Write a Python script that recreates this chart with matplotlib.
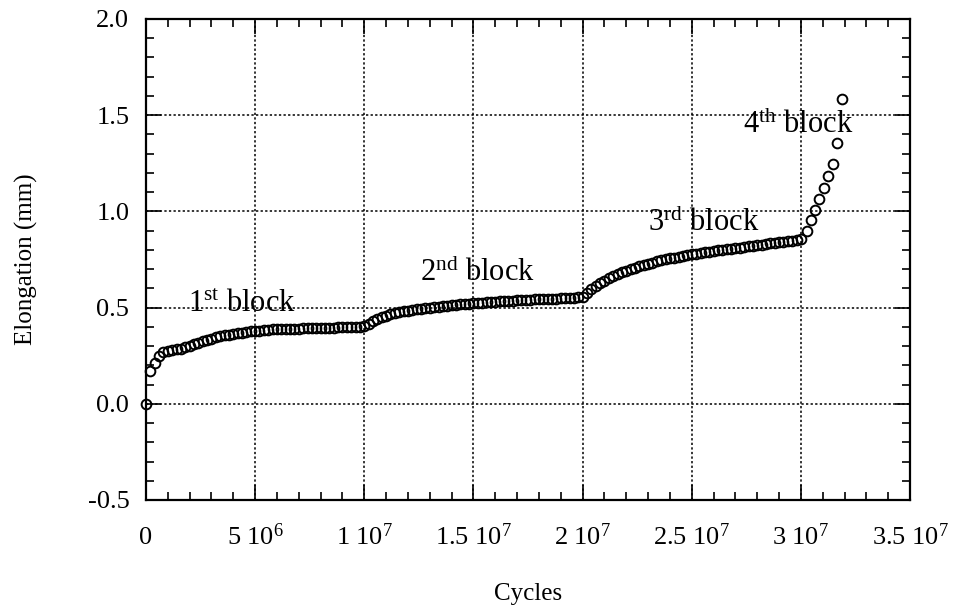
import matplotlib
matplotlib.use("Agg")
import matplotlib.pyplot as plt
from matplotlib.ticker import MultipleLocator

plt.rcParams['font.family'] = 'Liberation Serif'
plt.rcParams['mathtext.fontset'] = 'custom'
plt.rcParams['mathtext.rm'] = 'Liberation Serif'
plt.rcParams['mathtext.it'] = 'Liberation Serif:italic'
plt.rcParams['axes.unicode_minus'] = False

# cycles in millions, elongation in mm, one pair of lists per load block
cyc_b1 = [0.0, 0.2, 0.4, 0.6, 0.8, 1.0, 1.2, 1.4, 1.6, 1.8, 2.0, 2.2, 2.4, 2.6, 2.8,
          3.0, 3.2, 3.4, 3.6, 3.8, 4.0, 4.2, 4.4, 4.6, 4.8, 5.0, 5.2, 5.4, 5.6, 5.8,
          6.0, 6.2, 6.4, 6.6, 6.8, 7.0, 7.2, 7.4, 7.6, 7.8, 8.0, 8.2, 8.4, 8.6, 8.8,
          9.0, 9.2, 9.4, 9.6, 9.8, 10.0]
elong_b1 = [0.000, 0.168, 0.213, 0.250, 0.268, 0.275, 0.280, 0.283, 0.287, 0.293, 0.300,
            0.310, 0.318, 0.326, 0.333, 0.339, 0.345, 0.350, 0.355, 0.359, 0.363, 0.367,
            0.370, 0.373, 0.376, 0.378, 0.380, 0.382, 0.384, 0.386, 0.387, 0.388, 0.389,
            0.390, 0.390, 0.391, 0.392, 0.392, 0.393, 0.393, 0.394, 0.395, 0.395, 0.396,
            0.397, 0.397, 0.398, 0.399, 0.400, 0.401, 0.403]

cyc_b2 = [10.2, 10.4, 10.6, 10.8, 11.0, 11.2, 11.4, 11.6, 11.8, 12.0, 12.2, 12.4, 12.6,
          12.8, 13.0, 13.2, 13.4, 13.6, 13.8, 14.0, 14.2, 14.4, 14.6, 14.8, 15.0, 15.2,
          15.4, 15.6, 15.8, 16.0, 16.2, 16.4, 16.6, 16.8, 17.0, 17.2, 17.4, 17.6, 17.8,
          18.0, 18.2, 18.4, 18.6, 18.8, 19.0, 19.2, 19.4, 19.6, 19.8, 20.0]
elong_b2 = [0.415, 0.428, 0.440, 0.450, 0.458, 0.465, 0.470, 0.475, 0.480, 0.484, 0.488,
            0.491, 0.494, 0.497, 0.500, 0.503, 0.505, 0.508, 0.510, 0.512, 0.514, 0.516,
            0.518, 0.520, 0.522, 0.524, 0.526, 0.527, 0.529, 0.530, 0.532, 0.533, 0.535,
            0.536, 0.537, 0.539, 0.540, 0.541, 0.542, 0.543, 0.544, 0.545, 0.546, 0.547,
            0.548, 0.549, 0.550, 0.551, 0.553, 0.556]

cyc_b3 = [20.2, 20.4, 20.6, 20.8, 21.0, 21.2, 21.4, 21.6, 21.8, 22.0, 22.2, 22.4, 22.6,
          22.8, 23.0, 23.2, 23.4, 23.6, 23.8, 24.0, 24.2, 24.4, 24.6, 24.8, 25.0, 25.2,
          25.4, 25.6, 25.8, 26.0, 26.2, 26.4, 26.6, 26.8, 27.0, 27.2, 27.4, 27.6, 27.8,
          28.0, 28.2, 28.4, 28.6, 28.8, 29.0, 29.2, 29.4, 29.6, 29.8, 30.0]
elong_b3 = [0.575, 0.595, 0.612, 0.627, 0.640, 0.652, 0.663, 0.673, 0.683, 0.692, 0.700,
            0.708, 0.715, 0.722, 0.728, 0.734, 0.740, 0.745, 0.750, 0.755, 0.760, 0.764,
            0.768, 0.772, 0.776, 0.780, 0.784, 0.787, 0.791, 0.794, 0.797, 0.800, 0.803,
            0.806, 0.809, 0.812, 0.815, 0.818, 0.821, 0.824, 0.827, 0.830, 0.833, 0.836,
            0.839, 0.842, 0.845, 0.848, 0.851, 0.855]

cyc_b4 = [30.28, 30.46, 30.64, 30.84, 31.04, 31.22, 31.47, 31.64, 31.87]
elong_b4 = [0.900, 0.953, 1.008, 1.064, 1.119, 1.181, 1.246, 1.355, 1.585]

# block labels: (mathtext, x in cycles, y in mm)
block_labels = [
    (r'1$^{\rm st}$ block', 1.93e6, 0.475),
    (r'2$^{\rm nd}$ block', 1.257e7, 0.636),
    (r'3$^{\rm rd}$ block', 2.30e7, 0.896),
    (r'4$^{\rm th}$ block', 2.733e7, 1.407),
]

x_ticks = [0, 5e6, 1e7, 1.5e7, 2e7, 2.5e7, 3e7, 3.5e7]
x_ticklabels = ['0', r'5 10$^{6}$', r'1 10$^{7}$', r'1.5 10$^{7}$', r'2 10$^{7}$',
                r'2.5 10$^{7}$', r'3 10$^{7}$', r'3.5 10$^{7}$']
y_ticks = [-0.5, 0.0, 0.5, 1.0, 1.5, 2.0]

cycles = [c * 1e6 for c in cyc_b1 + cyc_b2 + cyc_b3 + cyc_b4]
elong = elong_b1 + elong_b2 + elong_b3 + elong_b4

fig = plt.figure(figsize=(9.54, 6.09), dpi=100)
ax = fig.add_axes([0.153, 0.179, 0.801, 0.790])

ax.plot(cycles, elong, linestyle='none', marker='o', markersize=7.0,
        markerfacecolor='none', markeredgecolor='black', markeredgewidth=1.4,
        clip_on=False, zorder=3)

for txt, x, y in block_labels:
    ax.text(x, y, txt, fontsize=22, ha='left', va='baseline', zorder=4)

ax.set_xlim(0, 3.5e7)
ax.set_ylim(-0.5, 2.0)
ax.set_xticks(x_ticks, x_ticklabels)
ax.set_yticks(y_ticks, ['%.1f' % v for v in y_ticks])
ax.xaxis.set_minor_locator(MultipleLocator(1e6))
ax.yaxis.set_minor_locator(MultipleLocator(0.1))

ax.tick_params(which='both', direction='in', top=True, right=True, width=1.2,
               colors='black', labelsize=19)
ax.tick_params(which='major', length=11)
ax.tick_params(which='minor', length=6)
ax.tick_params(axis='x', which='major', pad=32)
ax.tick_params(axis='y', which='major', pad=12)
plt.setp(ax.get_xticklabels(), va='baseline')

for s in ax.spines.values():
    s.set_linewidth(1.6)

ax.grid(True, which='major', color='black', linestyle=(0, (1.5, 1.5)), linewidth=1.1)

ax.set_xlabel('Cycles', fontsize=18, labelpad=24)
ax.set_ylabel('Elongation (mm)', fontsize=18, labelpad=36)

fig.savefig('out.png', dpi=100)
